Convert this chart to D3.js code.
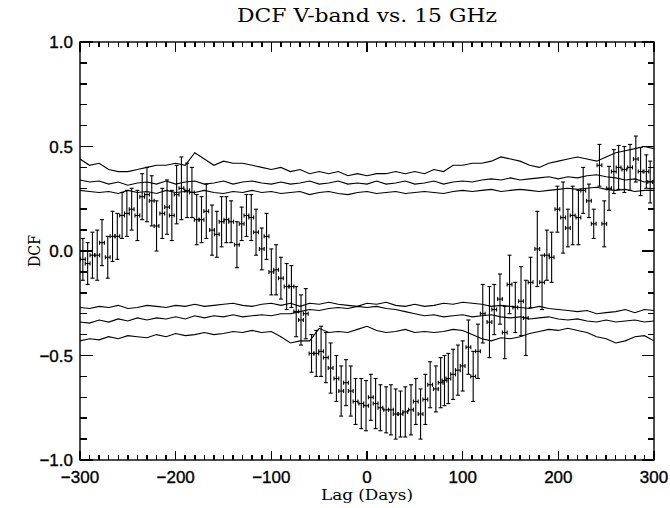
<!DOCTYPE html>
<html>
<head>
<meta charset="utf-8">
<script src="https://cdn.jsdelivr.net/npm/d3@7"></script>
<style>
  html, body { margin: 0; padding: 0; background: #fff; }
  svg { display: block; }
</style>
</head>
<body>
<svg id="chart" width="670" height="508"></svg>
<script>
// ---------------- DATA ----------------
const title = "DCF V-band vs. 15 GHz";
const xLabel = "Lag (Days)";
const yLabel = "DCF";
const xTicks = [-300, -200, -100, 0, 100, 200, 300];
const xTickLabels = ["\u2212300", "\u2212200", "\u2212100", "0", "100", "200", "300"];
const yTicks = [-1.0, -0.5, 0.0, 0.5, 1.0];
const yTickLabels = ["\u22121.0", "\u22120.5", "0.0", "0.5", "1.0"];
const xMinorTicks = [-290, -280, -270, -260, -250, -240, -230, -220, -210, -190, -180, -170, -160, -150, -140, -130, -120, -110,
  -90, -80, -70, -60, -50, -40, -30, -20, -10, 10, 20, 30, 40, 50, 60, 70, 80, 90,
  110, 120, 130, 140, 150, 160, 170, 180, 190, 210, 220, 230, 240, 250, 260, 270, 280, 290];
const yMinorTicks = [-0.9, -0.8, -0.7, -0.6, -0.4, -0.3, -0.2, -0.1, 0.1, 0.2, 0.3, 0.4, 0.6, 0.7, 0.8, 0.9];

// DCF points
const lags = [-297, -292, -287, -282, -277, -271, -266, -261, -256, -251, -246, -240, -235, -230, -225,
  -220, -214, -209, -204, -199, -194, -188, -183, -178, -173, -168, -162, -157, -152, -147,
  -142, -136, -131, -126, -121, -116, -110, -105, -100, -95, -90, -84, -79, -74, -69,
  -64, -58, -53, -48, -43, -38, -32, -27, -22, -17, -12, -6, -1, 4, 9,
  14, 20, 25, 30, 35, 40, 46, 51, 56, 61, 66, 72, 77, 81, 85,
  90, 95, 100, 106, 111, 116, 121, 128, 133, 139, 144, 149, 155, 161, 166,
  171, 178, 183, 188, 193, 199, 205, 210, 215, 221, 226, 232, 237, 243, 248,
  253, 258, 263, 269, 275, 281, 286, 292, 296];
const dcf = [-0.04, -0.06, -0.02, -0.02, 0.04, -0.03, 0.07, 0.07, 0.17, 0.18, 0.20, 0.17, 0.26, 0.27, 0.24,
  0.12, 0.18, 0.21, 0.17, 0.27, 0.30, 0.29, 0.28, 0.15, 0.15, 0.19, 0.10, 0.08, 0.14, 0.15,
  0.14, 0.03, 0.13, 0.17, 0.16, 0.09, 0.01, 0.07, -0.10, -0.09, -0.13, -0.17, -0.17, -0.29, -0.33,
  -0.30, -0.49, -0.49, -0.48, -0.51, -0.56, -0.61, -0.67, -0.63, -0.67, -0.72, -0.73, -0.74, -0.70, -0.73,
  -0.75, -0.76, -0.76, -0.78, -0.78, -0.77, -0.76, -0.72, -0.78, -0.71, -0.64, -0.66, -0.63, -0.62, -0.61,
  -0.59, -0.57, -0.55, -0.46, -0.60, -0.48, -0.30, -0.34, -0.28, -0.23, -0.39, -0.16, -0.27, -0.24, -0.32,
  -0.15, 0.01, -0.15, -0.02, -0.03, 0.20, 0.16, 0.11, 0.17, 0.16, 0.29, 0.24, 0.13, 0.41, 0.13,
  0.30, 0.38, 0.40, 0.39, 0.40, 0.44, 0.38, 0.38, 0.33];
const dcfErr = [0.10, 0.10, 0.11, 0.12, 0.11, 0.10, 0.12, 0.11, 0.11, 0.11, 0.10, 0.12, 0.11, 0.13, 0.12,
  0.12, 0.12, 0.13, 0.12, 0.14, 0.15, 0.13, 0.12, 0.12, 0.11, 0.13, 0.12, 0.11, 0.12, 0.11,
  0.10, 0.11, 0.08, 0.10, 0.11, 0.11, 0.10, 0.11, 0.11, 0.12, 0.10, 0.11, 0.10, 0.12, 0.12,
  0.12, 0.09, 0.11, 0.12, 0.12, 0.12, 0.11, 0.12, 0.11, 0.12, 0.11, 0.12, 0.12, 0.11, 0.12,
  0.11, 0.11, 0.12, 0.12, 0.11, 0.12, 0.12, 0.11, 0.12, 0.12, 0.11, 0.11, 0.12, 0.12, 0.12,
  0.12, 0.12, 0.12, 0.13, 0.12, 0.13, 0.14, 0.17, 0.12, 0.12, 0.125, 0.14, 0.12, 0.165, 0.18,
  0.12, 0.18, 0.13, 0.12, 0.12, 0.11, 0.17, 0.09, 0.14, 0.13, 0.11, 0.08, 0.07, 0.10, 0.11,
  0.105, 0.105, 0.105, 0.11, 0.11, 0.11, 0.115, 0.08, 0.10];
const lagHalfWidth = 2.5;

// Significance curves (sampled every 10 days)
const curveLags = [-300, -290, -280, -270, -260, -250, -240, -230, -220, -210, -200, -190, -180, -170, -160,
  -150, -140, -130, -120, -110, -100, -90, -80, -70, -60, -50, -40, -30, -20, -10,
  0, 10, 20, 30, 40, 50, 60, 70, 80, 90, 100, 110, 120, 130, 140,
  150, 160, 170, 180, 190, 200, 210, 220, 230, 240, 250, 260, 270, 280, 290, 300];
const upper3 = [0.44, 0.41, 0.42, 0.39, 0.38, 0.38, 0.39, 0.40, 0.41, 0.41, 0.42, 0.41, 0.47, 0.44, 0.41,
  0.43, 0.42, 0.42, 0.41, 0.40, 0.39, 0.40, 0.38, 0.39, 0.37, 0.38, 0.37, 0.38, 0.36, 0.37,
  0.36, 0.37, 0.37, 0.38, 0.37, 0.38, 0.37, 0.39, 0.38, 0.41, 0.41, 0.42, 0.42, 0.43, 0.45,
  0.44, 0.43, 0.41, 0.40, 0.42, 0.43, 0.44, 0.45, 0.44, 0.43, 0.45, 0.47, 0.48, 0.49, 0.50, 0.49];
const upper2 = [0.34, 0.33, 0.335, 0.32, 0.33, 0.315, 0.325, 0.33, 0.32, 0.335, 0.32, 0.33, 0.335, 0.32, 0.325,
  0.335, 0.32, 0.33, 0.335, 0.325, 0.32, 0.33, 0.32, 0.325, 0.335, 0.32, 0.325, 0.335, 0.32, 0.325,
  0.32, 0.335, 0.32, 0.325, 0.335, 0.32, 0.325, 0.335, 0.32, 0.33, 0.335, 0.33, 0.34, 0.345, 0.34,
  0.35, 0.34, 0.345, 0.35, 0.355, 0.345, 0.355, 0.35, 0.36, 0.365, 0.355, 0.35, 0.34, 0.345, 0.33, 0.335];
const upper1 = [0.29, 0.285, 0.28, 0.285, 0.275, 0.29, 0.28, 0.285, 0.275, 0.29, 0.28, 0.285, 0.28, 0.29, 0.28,
  0.275, 0.285, 0.28, 0.29, 0.28, 0.285, 0.275, 0.28, 0.285, 0.27, 0.28, 0.285, 0.275, 0.27, 0.28,
  0.285, 0.275, 0.28, 0.285, 0.275, 0.28, 0.285, 0.28, 0.275, 0.285, 0.29, 0.285, 0.29, 0.295, 0.285,
  0.29, 0.295, 0.29, 0.285, 0.29, 0.295, 0.30, 0.295, 0.30, 0.305, 0.295, 0.29, 0.295, 0.285, 0.29, 0.29];
const lower1 = [-0.27, -0.275, -0.265, -0.27, -0.26, -0.275, -0.27, -0.26, -0.265, -0.27, -0.26, -0.265, -0.255, -0.265, -0.26,
  -0.255, -0.25, -0.26, -0.265, -0.255, -0.25, -0.26, -0.25, -0.265, -0.25, -0.255, -0.245, -0.255, -0.26, -0.265,
  -0.25, -0.255, -0.245, -0.26, -0.265, -0.255, -0.265, -0.26, -0.25, -0.255, -0.245, -0.25, -0.255, -0.265, -0.26,
  -0.265, -0.27, -0.275, -0.265, -0.275, -0.28, -0.285, -0.29, -0.285, -0.30, -0.295, -0.29, -0.28, -0.295, -0.28, -0.285];
const lower2 = [-0.34, -0.345, -0.33, -0.34, -0.325, -0.335, -0.32, -0.33, -0.32, -0.325, -0.315, -0.325, -0.31, -0.32, -0.31,
  -0.315, -0.305, -0.315, -0.31, -0.305, -0.31, -0.30, -0.30, -0.29, -0.28, -0.285, -0.275, -0.27, -0.275, -0.265,
  -0.27, -0.265, -0.275, -0.28, -0.29, -0.30, -0.31, -0.305, -0.315, -0.31, -0.305, -0.315, -0.31, -0.305, -0.315,
  -0.32, -0.315, -0.325, -0.32, -0.315, -0.325, -0.33, -0.325, -0.335, -0.34, -0.33, -0.34, -0.335, -0.33, -0.34, -0.335];
const lower3 = [-0.43, -0.42, -0.425, -0.41, -0.42, -0.405, -0.41, -0.415, -0.40, -0.41, -0.395, -0.405, -0.40, -0.39, -0.40,
  -0.395, -0.385, -0.39, -0.38, -0.39, -0.385, -0.41, -0.44, -0.43, -0.43, -0.37, -0.39, -0.385, -0.39, -0.375,
  -0.36, -0.38, -0.39, -0.385, -0.375, -0.39, -0.385, -0.39, -0.385, -0.375, -0.38, -0.40, -0.42, -0.43, -0.415,
  -0.42, -0.41, -0.395, -0.385, -0.375, -0.38, -0.37, -0.38, -0.39, -0.41, -0.42, -0.44, -0.43, -0.41, -0.405, -0.43];
const curves = [upper3, upper2, upper1, lower1, lower2, lower3];

// ---------------- DRAW ----------------
const svg = d3.select("#chart");
const L = 80, R = 654, T = 42, B = 460;
const x = d3.scaleLinear().domain([-300, 300]).range([L, R]);
const y = d3.scaleLinear().domain([-1, 1]).range([B, T]);

const sansFont = "'Liberation Sans', Arial, Helvetica, sans-serif";
const serifFont = "'DejaVu Serif', 'Liberation Serif', serif";

// frame
svg.append("rect").attr("x", L).attr("y", T).attr("width", R - L).attr("height", B - T)
  .attr("fill", "none").attr("stroke", "#000").attr("stroke-width", 1.4);

// tick labels
svg.append("g").selectAll("text").data(xTicks).join("text")
  .attr("x", d => x(d)).attr("y", B + 23)
  .attr("text-anchor", "middle")
  .attr("font-family", sansFont).attr("font-size", 17).attr("fill", "#000")
  .attr("stroke", "#000").attr("stroke-width", 0.35)
  .text((d, i) => xTickLabels[i]);
svg.append("g").selectAll("text").data(yTicks).join("text")
  .attr("x", L - 7).attr("y", d => y(d) + 6)
  .attr("text-anchor", "end")
  .attr("font-family", sansFont).attr("font-size", 17).attr("fill", "#000")
  .attr("stroke", "#000").attr("stroke-width", 0.35)
  .text((d, i) => yTickLabels[i]);

// titles
svg.append("text").attr("x", (L + R) / 2).attr("y", 22).attr("text-anchor", "middle")
  .attr("font-family", serifFont).attr("font-size", 19).attr("fill", "#000")
  .attr("textLength", 260).attr("lengthAdjust", "spacingAndGlyphs")
  .text(title);
svg.append("text").attr("x", (L + R) / 2).attr("y", 500).attr("text-anchor", "middle")
  .attr("font-family", serifFont).attr("font-size", 15).attr("fill", "#000")
  .attr("textLength", 92).attr("lengthAdjust", "spacingAndGlyphs")
  .text(xLabel);
svg.append("text").attr("transform", `translate(40,${(T + B) / 2}) rotate(-90)`)
  .attr("text-anchor", "middle")
  .attr("font-family", serifFont).attr("font-size", 16).attr("fill", "#000")
  .attr("textLength", 32).attr("lengthAdjust", "spacingAndGlyphs")
  .text(yLabel);

// curves
const line = d3.line().x((d, i) => x(curveLags[i])).y(d => y(d));
svg.append("g").selectAll("path").data(curves).join("path")
  .attr("d", d => line(d))
  .attr("fill", "none").attr("stroke", "#000").attr("stroke-width", 1.1);

// error bars
const pts = lags.map((l, i) => ({ l, v: dcf[i], e: dcfErr[i] }));
const eb = svg.append("g").attr("stroke", "#000").attr("stroke-width", 1.1).attr("fill", "none");
const cap = 2;
const pg = eb.selectAll("g").data(pts).join("g");
pg.append("line").attr("x1", d => x(d.l)).attr("x2", d => x(d.l))
  .attr("y1", d => y(d.v - d.e)).attr("y2", d => y(d.v + d.e));
pg.append("line").attr("x1", d => x(d.l) - cap).attr("x2", d => x(d.l) + cap)
  .attr("y1", d => y(d.v + d.e)).attr("y2", d => y(d.v + d.e));
pg.append("line").attr("x1", d => x(d.l) - cap).attr("x2", d => x(d.l) + cap)
  .attr("y1", d => y(d.v - d.e)).attr("y2", d => y(d.v - d.e));
pg.append("line").attr("x1", d => x(d.l - lagHalfWidth)).attr("x2", d => x(d.l + lagHalfWidth))
  .attr("y1", d => y(d.v)).attr("y2", d => y(d.v));
pg.append("line").attr("x1", d => x(d.l - lagHalfWidth)).attr("x2", d => x(d.l - lagHalfWidth))
  .attr("y1", d => y(d.v) - cap).attr("y2", d => y(d.v) + cap);
pg.append("line").attr("x1", d => x(d.l + lagHalfWidth)).attr("x2", d => x(d.l + lagHalfWidth))
  .attr("y1", d => y(d.v) - cap).attr("y2", d => y(d.v) + cap);

// ticks (inward, on all four sides), drawn last
const tk = svg.append("g").attr("stroke", "#000").attr("stroke-width", 1.5)
  .attr("shape-rendering", "crispEdges");
const xTickData = xTicks.map(v => ({ v, len: 9.5 })).concat(xMinorTicks.map(v => ({ v, len: 5 })));
const yTickData = yTicks.map(v => ({ v, len: 12.5 })).concat(yMinorTicks.map(v => ({ v, len: 6.5 })));
xTickData.forEach(d => {
  tk.append("line").attr("x1", x(d.v)).attr("y1", B).attr("x2", x(d.v)).attr("y2", B - d.len);
  tk.append("line").attr("x1", x(d.v)).attr("y1", T).attr("x2", x(d.v)).attr("y2", T + d.len);
});
yTickData.forEach(d => {
  tk.append("line").attr("x1", L).attr("y1", y(d.v)).attr("x2", L + d.len).attr("y2", y(d.v));
  tk.append("line").attr("x1", R).attr("y1", y(d.v)).attr("x2", R - d.len).attr("y2", y(d.v));
});
</script>
</body>
</html>
